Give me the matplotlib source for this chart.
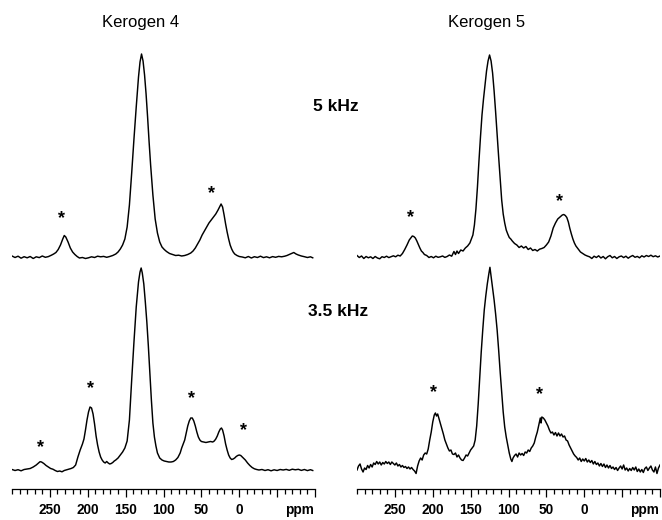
import matplotlib
matplotlib.use("Agg")
import matplotlib.pyplot as plt
from matplotlib.ticker import FixedLocator, MultipleLocator

plt.rcParams["font.family"] = ["Liberation Sans", "DejaVu Sans"]

# traced spectra: chemical shift (ppm) and intensity (a.u.)
k4_5khz_ppm = [300, 296, 292, 288, 284, 280, 276, 272, 268, 264, 260, 256, 252, 248, 245, 242,
               239, 236, 233, 231, 229, 226, 223, 220, 217, 214, 211, 207, 203, 199, 195, 191,
               187, 183, 179, 175, 171, 167, 163, 160, 157, 154, 151, 148, 145, 142, 139, 136,
               133, 131, 129, 127, 125, 123, 121, 119, 117, 114, 111, 108, 105, 102, 99, 96,
               92, 88, 84, 80, 76, 72, 68, 64, 61, 58, 55, 52, 49, 46, 43, 40, 37, 34, 31, 28,
               26, 24, 22, 20, 18, 16, 14, 12, 10, 8, 6, 3, 0, -4, -8, -12, -16, -20, -24, -28,
               -32, -36, -40, -44, -48, -52, -56, -60, -63, -66, -69, -72, -75, -78, -82, -86,
               -90, -94, -97]
k4_5khz_int = [1.0, -0.5, 0.8, -1.2, 0.3, -0.8, 0.5, -1.5, 0.2, -0.6, 1.0, -0.3, 0.4, 1.8, 3.0, 4.5,
               7.5, 12, 18, 21.5, 20, 15, 9, 5, 2.5, 0.5, -1.0, -0.5, -1.5, -0.8, 0.2, -0.5,
               0.8, 0.2, 0.6, -0.3, 0.5, 1.5, 3, 5, 8, 12, 18, 30, 52, 84, 118, 150,
               180, 195, 203, 196, 182, 163, 140, 115, 92, 62, 38, 24, 15, 10, 7.5, 5.5,
               3.5, 2.5, 1.5, 1.8, 1.0, 1.5, 2.5, 4, 6, 9, 13, 17, 22, 26, 30, 34, 37, 40, 43, 47,
               50, 53, 50, 42, 33, 25, 18, 12, 8, 5, 3, 1.5, 0.5, 0, -0.8, 0.5, -1.0, 0.3, -0.5, 0.8,
               -0.6, 0.2, -0.8, 0.4, -0.3, 0.6, 0.2, 0.8, 1.5, 2.5, 3.5, 4.5, 3.0, 2.0, 1.0, 0.3,
               -0.5, 0.2, -0.8]

k5_5khz_ppm = [300, 297, 294, 291, 288, 285, 282, 279, 276, 273, 270, 267, 264, 261, 258, 255,
               252, 249, 246, 243, 240, 237, 234, 231, 229, 227, 225, 223, 221, 219, 217, 215,
               213, 211, 208, 205, 202, 199, 196, 193, 190, 187, 184, 181, 178, 175, 172, 170,
               168, 166, 163, 160, 157, 154, 151, 149, 147, 145, 143, 141, 139, 137, 135, 133,
               131, 129, 127, 125, 123, 121, 119, 117, 115, 113, 111, 109, 107, 105, 103, 101,
               99, 97, 95, 92, 89, 86, 83, 80, 77, 74, 71, 68, 65, 62, 59, 56, 53, 50, 47, 44,
               41, 38, 35, 32, 29, 27, 25, 23, 21, 19, 17, 15, 13, 11, 9, 7, 5, 2, -1, -4, -7,
               -10, -13, -16, -19, -22, -25, -28, -31, -34, -37, -40, -43, -46, -49, -52, -55,
               -58, -61, -64, -67, -70, -73, -76, -79, -82, -85, -88, -91, -94, -97, -100]
k5_5khz_int = [1.5, -0.5, 1.0, -1.5, 0.5, -0.8, 0.2, -1.5, 0.5, -1.0, -1.8, 0.3, -0.5, 0.8, -0.6, 0.3,
               1.2, 0.2, 1.8, 1.0, 3.5, 7.5, 12, 17, 19, 21, 20.5, 19, 16, 12.5, 9, 6,
               4.5, 2.5, 1.5, -0.5, 0.5, -0.8, 0.8, -0.3, 0.2, 1.0, -0.4, 0.5, 2.0, 0.8, 5.5, 2.5,
               6, 3.5, 7, 6, 9, 11, 14, 18, 22, 32, 48, 70, 96, 120, 142, 158,
               172, 186, 196, 202, 196, 184, 166, 145, 122, 100, 78, 57, 43, 34, 27, 23,
               19.5, 18, 16, 13.5, 12, 9.5, 11, 9, 10.5, 7.5, 9, 6.5, 7.5, 6, 7.8, 8.5, 9.5, 12, 15, 21,
               29, 34, 38, 40, 42, 42.5, 41.5, 39.5, 35, 28.5, 23, 18, 14, 11, 9, 7, 5, 3.5, 2, 1.0, 0.2,
               -1.5, 0.8, -0.5, 1.2, -1.0, 0.5, -1.8, 0.3, 1.5, -0.8, 0.5, -1.5, 0.2, 1.0, -0.6, 0.8,
               -1.2, 0.4, 1.5, -0.3, 0.6, -0.8, 1.2, 0.0, 1.5, 0.5, 1.8, 0.3, 1.2, 0.0, 1.0]

k4_35khz_ppm = [300, 296, 292, 288, 284, 280, 276, 272, 268, 265, 263, 261, 258, 255, 252, 249,
                246, 243, 240, 237, 234, 231, 228, 225, 222, 219, 216, 213, 210, 207, 205, 203,
                201, 199, 197, 195, 193, 191, 189, 187, 185, 183, 181, 179, 177, 175, 173, 171,
                169, 167, 165, 163, 160, 157, 154, 151, 148, 145, 142, 139, 136, 133, 131, 129.5,
                128, 126, 124, 122, 120, 118, 116, 114, 112, 110, 108, 105, 102, 99, 96, 93, 90,
                87, 84, 81, 78, 76, 74, 72, 70, 68, 66, 64, 62, 60, 58, 56, 54, 52, 50, 47, 44,
                41, 38, 35, 33, 31, 29, 27, 25, 23.5, 22, 20, 18, 16, 14, 12, 10, 8, 6, 4, 2, 0,
                -2, -4, -6, -8, -11, -14, -17, -20, -23, -26, -30, -34, -38, -42, -46, -50, -54,
                -58, -62, -66, -70, -74, -78, -82, -86, -90, -94, -97]
k4_35khz_int = [0.5, -0.5, 0.3, -0.8, 0.5, 1.0, 1.5, 3.0, 5.0, 7.0, 8.3, 8.0, 6.5, 4.5, 3.0, 1.5,
                0.8, -0.5, -1.5, -1.0, -1.8, -0.5, 0.2, 0.8, 1.5, 2.5, 5, 13, 20, 26, 31, 40,
                50, 58, 63, 62, 56, 46, 34, 25, 18, 13, 10, 8, 7, 8.5, 7, 6,
                6.5, 7.5, 9, 10, 12, 15, 18, 22, 29, 50, 90, 128, 163, 188, 198, 202,
                197, 186, 168, 148, 124, 96, 70, 47, 33, 24, 17, 12, 10, 9, 8.5, 8, 8,
                8.5, 10, 12.5, 17, 22, 26, 30, 37, 44, 49, 52, 52, 49, 44, 38, 33, 30, 28.5, 28, 27.5,
                28, 28.5, 28, 29, 31, 34, 38, 41, 42, 40, 34, 26, 20, 15, 12, 10.5, 11, 12, 13.5, 14.5, 15,
                14.5, 13, 11.5, 10, 7, 4.5, 2.5, 1.2, 0.5, 0, 0.5, -0.5, 0.3, -0.8, 0.2, -0.5, 0.5,
                0.0, 0.6, -0.3, 0.8, 0.2, 0.7, -0.4, 0.5, -0.6, 0.3, -0.5]

k5_35khz_ppm = [300, 298, 296, 294, 292, 290, 288, 286, 284, 282, 280, 278, 276, 274, 272, 270,
                268, 266, 264, 262, 260, 258, 256, 254, 252, 250, 248, 246, 244, 242, 240, 238,
                236, 234, 232, 230, 228, 226, 224, 222, 220, 218, 216, 214, 212, 210, 208, 206,
                204, 202, 200, 198, 196.5, 195, 193.5, 192, 190, 188, 186, 184, 182, 180, 178,
                176, 174, 172, 170, 168, 166, 164, 162, 160, 158, 156, 154, 152, 150, 148, 146,
                144, 142, 140, 138, 136, 134, 132, 130, 128, 126, 124.5, 123, 121, 119, 117, 115,
                113, 111, 109, 107, 105, 103, 101, 99, 97, 95.5, 94, 92, 90, 88, 86, 84, 82, 80,
                78, 76, 74, 72, 70, 68, 66, 64, 62, 60, 58, 57, 56, 54, 52, 50, 48, 46, 44, 42,
                40, 38, 36, 34, 32, 30, 28, 26, 24, 22, 20, 18, 16, 14, 12, 10, 8, 6, 4, 2, 0,
                -2, -4, -6, -8, -10, -12, -14, -16, -18, -20, -22, -24, -26, -28, -30, -32, -34,
                -36, -38, -40, -42, -44, -46, -48, -50, -52, -54, -56, -58, -60, -62, -64, -66,
                -68, -70, -72, -74, -76, -78, -80, -82, -84, -86, -88, -90, -92, -94, -96, -98, -100]
k5_35khz_int = [0, 4, 6, 1, -2, 2, 0.5, 4.5, 2, 5.5, 3, 7, 5.5, 8.5, 6, 8,
                5, 7.5, 6, 8.5, 6.5, 8, 5.5, 8, 6.5, 5, 7, 4, 5.5, 3, 4.5, 2.5,
                3.5, 1.5, 3, 1, 2.5, 0.5, -1, -3.5, 4, 9, 12, 10, 15, 17, 16, 21,
                30, 38, 48, 55, 57, 54, 56, 52, 47, 41, 36, 30, 26, 22, 19,
                20, 16, 15.5, 17, 13, 15, 12, 10, 9.5, 12, 15, 14, 17, 20, 22, 24,
                30, 44, 66, 92, 118, 140, 160, 174, 186, 196, 202.7, 194, 182, 170, 156, 140,
                120, 98, 78, 58, 43, 33, 25, 17, 11, 8.5, 12, 14.5, 16, 13, 17, 15, 16.5, 14.5,
                18, 17, 20, 18.5, 22, 24, 27, 33, 38, 45, 52, 47, 53, 52, 50, 47, 44, 40, 37, 38,
                35, 37.5, 34, 37, 34, 36, 33, 34, 30, 29, 25, 22, 19, 16, 14, 12.5, 10, 12, 8.5, 11, 9,
                11.5, 8, 10, 7.5, 9.5, 6, 8.5, 5.5, 7, 4, 6.5, 3.5, 6, 2.5, 5, 2, 4.5,
                1.5, 3, 0.5, 2.5, -0.5, 2, 4, 1, 5, 0, 2, -1, 1.5, -0.5, 2.5, 0,
                3, -1.5, 1, -2, 0.5, -2.5, 1.5, 3, -0.5, 2, 4, 0, -2, 3, -3.5, 2, 5]

samples = ["Kerogen 4", "Kerogen 5"]
spin_rates = ["5 kHz", "3.5 kHz"]
major_ticks = [250, 200, 150, 100, 50, 0, -50, -100]
major_labels = ["250", "200", "150", "100", "50", "0", "", ""]

# sideband markers (ppm, intensity)
stars_k4_5 = [(234, 44), (36, 69)]
stars_k5_5 = [(229, 45), (33, 61)]
stars_k4_35 = [(263, 28), (197, 87), (63, 77), (-5, 45)]
stars_k5_35 = [(199, 83), (59, 81)]

W, H = 662, 520
fig = plt.figure(figsize=(W / 100, H / 100), dpi=100)

def rect(x0, x1, ytop, ybot):
    return [x0 / W, 1 - ybot / H, (x1 - x0) / W, (ybot - ytop) / H]

cols = [(12, 315), (357, 660)]
spectra = [
    [(k4_5khz_ppm, k4_5khz_int, stars_k4_5), (k4_35khz_ppm, k4_35khz_int, stars_k4_35)],
    [(k5_5khz_ppm, k5_5khz_int, stars_k5_5), (k5_35khz_ppm, k5_35khz_int, stars_k5_35)],
]

for c, (x0, x1) in enumerate(cols):
    ax_top = fig.add_axes(rect(x0, x1, 45, 265))
    ax_bot = fig.add_axes(rect(x0, x1, 262, 489))
    for ax, (ppm, inten, stars), ylim in zip([ax_top, ax_bot], spectra[c],
                                             [(-8, 212), (-19, 208)]):
        ax.plot(ppm, inten, color="black", lw=1.05)
        ax.set_xlim(300, -100)
        ax.set_ylim(*ylim)
        ax.patch.set_visible(False)
        for s in ax.spines.values():
            s.set_visible(False)
        ax.set_yticks([])
        for sx, sy in stars:
            ax.annotate("*", (sx, sy), xytext=(0, -4), textcoords="offset points",
                        ha="center", va="center", fontsize=13, fontweight="bold")
    ax_top.set_xticks([])

    ax_bot.spines["bottom"].set_visible(True)
    ax_bot.spines["bottom"].set_linewidth(0.9)
    ax_bot.spines["bottom"].set_position(("data", -19))
    ax_bot.xaxis.set_major_locator(FixedLocator(major_ticks))
    ax_bot.set_xticklabels(major_labels)
    ax_bot.xaxis.set_minor_locator(MultipleLocator(10))
    ax_bot.tick_params(axis="x", which="major", direction="out", length=5.8, width=0.9,
                       pad=4.5, labelsize=9.8)
    ax_bot.tick_params(axis="x", which="minor", direction="out", length=3.6, width=0.9)
    for lab in ax_bot.get_xticklabels():
        lab.set_fontweight("bold")
    ax_bot.annotate("ppm", (-80, 0), xycoords=ax_bot.get_xaxis_transform(),
                    xytext=(0, -10.3), textcoords="offset points",
                    ha="center", va="top", fontsize=9.8, fontweight="bold")

fig.text(141 / W, 1 - 22 / H, samples[0], ha="center", va="center", fontsize=12)
fig.text(487 / W, 1 - 22 / H, samples[1], ha="center", va="center", fontsize=12)
fig.text(336 / W, 1 - 107 / H, spin_rates[0], ha="center", va="center", fontsize=12.5,
         fontweight="bold")
fig.text(338 / W, 1 - 312 / H, spin_rates[1], ha="center", va="center", fontsize=12.5,
         fontweight="bold")

fig.savefig("out.png", dpi=100)
